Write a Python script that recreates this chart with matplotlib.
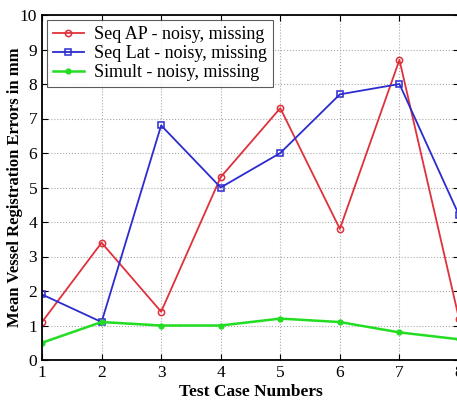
import numpy as np
import matplotlib
matplotlib.use("Agg")
import matplotlib.pyplot as plt

cases = [1, 2, 3, 4, 5, 6, 7, 8]
seq_ap = [1.1, 3.4, 1.4, 5.3, 7.3, 3.8, 8.7, 1.2]
seq_lat = [1.9, 1.1, 6.8, 5.0, 6.0, 7.7, 8.0, 4.2]
simult = [0.5, 1.1, 1.0, 1.0, 1.2, 1.1, 0.8, 0.6]
labels = ["Seq AP - noisy, missing", "Seq Lat - noisy, missing", "Simult - noisy, missing"]

plt.rcParams['font.family'] = ['Liberation Serif', 'DejaVu Serif']

fig = plt.figure(figsize=(4.57, 4.05), dpi=100)
ax = fig.add_axes([42/457, 45/405, 417/457, 345/405])

ax.plot(cases, seq_ap, color='#e0303a', lw=1.3, marker='o', ms=4.5, mfc='none', mew=1.1, label=labels[0])
ax.plot(cases, seq_lat, color='#2b2bd0', lw=1.3, marker='s', ms=4.5, mfc='none', mew=1.1, label=labels[1])
ax.plot(cases, simult, color='#22dd22', lw=1.8, marker='.', ms=7, label=labels[2])

ax.set_xlim(1, 8)
ax.set_ylim(0, 10)
ax.set_xticks(cases)
ax.set_yticks(range(0, 11))
ax.grid(True, linestyle=':', color='#aaaaaa', lw=0.8)
ax.tick_params(direction='in', top=True, right=True, labelsize=12.5, length=4)
for s in ax.spines.values():
    s.set_linewidth(1.3)

ax.set_xlabel("Test Case Numbers", fontsize=12.5, fontweight='bold', labelpad=2)
ax.set_ylabel("Mean Vessel Registration Errors in mm", fontsize=12, fontweight='bold')
ax.yaxis.set_label_coords(-0.045, 0.5)

leg = ax.legend(loc='upper left', fontsize=13, fancybox=False, edgecolor='#333333',
                borderaxespad=0.3, handlelength=1.7, handletextpad=0.6,
                labelspacing=0.12, borderpad=0.3)
leg.get_frame().set_linewidth(0.8)

fig.savefig("out.png", dpi=100)
